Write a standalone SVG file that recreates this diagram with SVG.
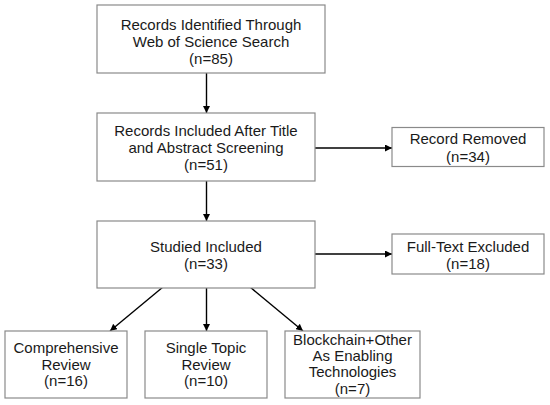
<svg xmlns="http://www.w3.org/2000/svg" width="550" height="405" viewBox="0 0 550 405">
<style>
.box{fill:#fff;stroke:#8a8a8a;stroke-width:1.2}
.t{font-family:"Liberation Sans",Arial,sans-serif;font-size:15px;fill:#1a1a1a;text-anchor:middle}
.c{stroke:#000;stroke-width:1.4;fill:none;marker-end:url(#ah)}
</style>
<defs>
<marker id="ah" viewBox="0 0 10 10" refX="10" refY="5" markerWidth="7" markerHeight="7" markerUnits="userSpaceOnUse" orient="auto">
<path d="M0,0 L10,5 L0,10 z" fill="#000"/>
</marker>
</defs>
<rect width="550" height="405" fill="#fff"/>
<g id="connectors">
<line class="c" x1="206.5" y1="73" x2="206.5" y2="113"/>
<line class="c" x1="315" y1="148" x2="392" y2="148"/>
<line class="c" x1="206.5" y1="181" x2="206.5" y2="221"/>
<line class="c" x1="315" y1="254" x2="392" y2="254"/>
<line class="c" x1="163" y1="287" x2="110" y2="331"/>
<line class="c" x1="206.5" y1="287" x2="206.5" y2="331"/>
<line class="c" x1="250" y1="287" x2="303" y2="331"/>
</g>
<g id="n1">
<rect class="box" x="97" y="5" width="228" height="68"/>
<text class="t" x="211" y="30">Records Identified Through</text>
<text class="t" x="211" y="47">Web of Science Search</text>
<text class="t" x="211" y="64">(n=85)</text>
</g>
<g id="n2">
<rect class="box" x="97" y="113" width="218" height="68"/>
<text class="t" x="206" y="136">Records Included After Title</text>
<text class="t" x="206" y="153">and Abstract Screening</text>
<text class="t" x="206" y="170">(n=51)</text>
</g>
<g id="n3">
<rect class="box" x="392" y="127.5" width="152" height="39"/>
<text class="t" x="468" y="144">Record Removed</text>
<text class="t" x="468" y="161.5">(n=34)</text>
</g>
<g id="n4">
<rect class="box" x="97" y="221" width="218" height="67"/>
<text class="t" x="206" y="251.5">Studied Included</text>
<text class="t" x="206" y="269">(n=33)</text>
</g>
<g id="n5">
<rect class="box" x="392" y="234" width="152" height="40"/>
<text class="t" x="468" y="251.5">Full-Text Excluded</text>
<text class="t" x="468" y="269">(n=18)</text>
</g>
<g id="n6">
<rect class="box" x="5" y="331" width="122" height="67"/>
<text class="t" x="66" y="353">Comprehensive</text>
<text class="t" x="66" y="369.5">Review</text>
<text class="t" x="66" y="386">(n=16)</text>
</g>
<g id="n7">
<rect class="box" x="145" y="331" width="122" height="67"/>
<text class="t" x="206" y="353">Single Topic</text>
<text class="t" x="206" y="369.5">Review</text>
<text class="t" x="206" y="386">(n=10)</text>
</g>
<g id="n8">
<rect class="box" x="285" y="331" width="135" height="67"/>
<text class="t" x="352.5" y="345">Blockchain+Other</text>
<text class="t" x="352.5" y="361">As Enabling</text>
<text class="t" x="352.5" y="377">Technologies</text>
<text class="t" x="352.5" y="393.5">(n=7)</text>
</g>
</svg>
